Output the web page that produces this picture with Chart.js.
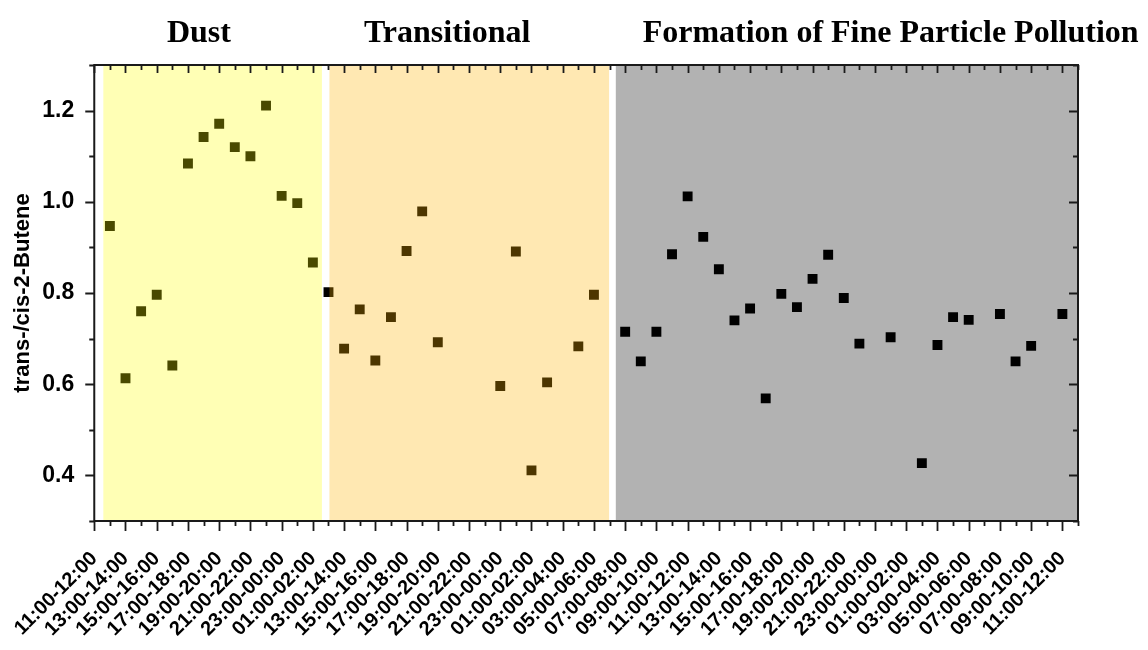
<!DOCTYPE html>
<html>
<head>
<meta charset="utf-8">
<script src="https://cdn.jsdelivr.net/npm/chart.js@4/dist/chart.umd.min.js"></script>
<style>
  html, body { margin: 0; padding: 0; background: #fff; }
  #wrap { width: 1148px; height: 650px; position: relative; }
</style>
</head>
<body>
<div id="wrap"><canvas id="ratioChart"></canvas></div>
<script>
// tick labels on the bottom axis, one per two hourly slots (slot 0, 2, 4 ... 62)
const timeLabels = [
  '11:00-12:00', '13:00-14:00', '15:00-16:00', '17:00-18:00', '19:00-20:00', '21:00-22:00', '23:00-00:00', '01:00-02:00',
  '13:00-14:00', '15:00-16:00', '17:00-18:00', '19:00-20:00', '21:00-22:00', '23:00-00:00', '01:00-02:00', '03:00-04:00', '05:00-06:00',
  '07:00-08:00', '09:00-10:00', '11:00-12:00', '13:00-14:00', '15:00-16:00', '17:00-18:00', '19:00-20:00', '21:00-22:00',
  '23:00-00:00', '01:00-02:00', '03:00-04:00', '05:00-06:00', '07:00-08:00', '09:00-10:00', '11:00-12:00'
];
const yTickLabels = ['0.4', '0.6', '0.8', '1.0', '1.2'];

// trans-/cis-2-butene ratio per hourly slot, split by period
const dustRatio = [null, 0.947, 0.613, 0.760, 0.796, 0.641, 1.084, 1.142, 1.171, 1.120, 1.100, 1.211, 1.013, 0.997, 0.867];          // slots 0-14
const transRatio = [0.802, 0.678, 0.764, 0.652, 0.747, 0.892, 0.979, 0.692, null, null, null, 0.596, 0.891, 0.411, 0.604, null, 0.683, 0.796]; // slots 15-32
const fineRatio = [null, 0.715, 0.650, 0.715, 0.885, 1.012, 0.923, 0.852, 0.740, 0.766, 0.569, 0.798, 0.769, 0.831, 0.884, 0.789, 0.689,
  null, 0.703, null, 0.427, 0.686, 0.747, 0.741, null, 0.754, 0.650, 0.684, null, 0.754];                                              // slots 33-62

const periodNames = ['Dust', 'Transitional', 'Formation of Fine Particle Pollution'];
const periodFrom = [0.58, 15.06, 33.4];
const periodTo = [14.58, 32.97, 63];

// styling
const bandColors = ['rgba(255,255,0,0.29)', 'rgba(255,178,0,0.30)', 'rgba(0,0,0,0.30)'];
const titleAt = [6.7, 22.6, 51.0];

const toPoints = (arr, start) => arr.map((v, i) => ({ x: start + i, y: v }));

const series = [
  toPoints(dustRatio, 0),
  toPoints(transRatio, dustRatio.length),
  toPoints(fineRatio, dustRatio.length + transRatio.length)
];

const framePlugin = {
  id: 'frame',
  afterDatasetsDraw(chart) {
    const { ctx, chartArea: a, scales: { x } } = chart;
    ctx.save();
    periodFrom.forEach((from, i) => {
      const x0 = x.getPixelForValue(from);
      const x1 = x.getPixelForValue(periodTo[i]);
      ctx.fillStyle = bandColors[i];
      ctx.fillRect(x0, a.top, x1 - x0, a.bottom - a.top);
    });
    ctx.restore();
  },
  afterDraw(chart) {
    const { ctx, chartArea: a, scales: { x, y } } = chart;
    ctx.save();
    ctx.strokeStyle = '#1a1a1a';
    ctx.lineWidth = 2;
    ctx.strokeRect(a.left, a.top, a.right - a.left, a.bottom - a.top);

    ctx.lineWidth = 1.8;
    ctx.beginPath();
    for (let i = 0; i <= 63; i++) {
      const px = Math.round(x.getPixelForValue(i)) + 0.5;
      const big = i % 2 === 0;
      ctx.moveTo(px, a.bottom); ctx.lineTo(px, a.bottom + (big ? 10 : 5));
      ctx.moveTo(px, a.top); ctx.lineTo(px, a.top + (big ? 8 : 5));
    }
    for (let k = 3; k <= 13; k++) {
      const py = Math.round(y.getPixelForValue(k / 10)) + 0.5;
      const big = k % 2 === 0;
      ctx.moveTo(a.left, py); ctx.lineTo(a.left - (big ? 9 : 5), py);
      ctx.moveTo(a.right, py); ctx.lineTo(a.right - (big ? 9 : 5), py);
    }
    ctx.stroke();

    ctx.fillStyle = '#000';
    ctx.font = 'bold 32px "Liberation Serif", "Times New Roman", serif';
    ctx.textAlign = 'center';
    ctx.textBaseline = 'alphabetic';
    periodNames.forEach((name, i) => {
      ctx.fillText(name, x.getPixelForValue(titleAt[i]), 42);
    });
    ctx.restore();
  }
};

new Chart(document.getElementById('ratioChart'), {
  type: 'scatter',
  data: {
    datasets: series.map((pts, i) => ({
      label: periodNames[i],
      data: pts,
      pointStyle: 'rect',
      pointRadius: 7,
      pointHoverRadius: 7,
      borderWidth: 0,
      backgroundColor: '#000',
      borderColor: '#000'
    }))
  },
  options: {
    responsive: true,
    maintainAspectRatio: false,
    animation: false,
    events: [],
    layout: { padding: { top: 65, right: 70, left: 0, bottom: 0 } },
    plugins: { legend: { display: false }, tooltip: { enabled: false } },
    scales: {
      x: {
        type: 'linear',
        min: 0,
        max: 63,
        grid: { display: false },
        border: { display: false },
        afterFit: s => { s.height = 129; },
        afterBuildTicks: s => { s.ticks = Array.from({ length: 64 }, (_, i) => ({ value: i })); },
        ticks: {
          autoSkip: false,
          minRotation: 45,
          maxRotation: 45,
          padding: 18,
          color: '#000',
          font: { family: '"Liberation Sans", Arial, sans-serif', weight: 'bold', size: 20 },
          callback: v => (v % 2 === 0 && v / 2 < timeLabels.length) ? timeLabels[v / 2] : ''
        }
      },
      y: {
        min: 0.3,
        max: 1.3,
        grid: { display: false },
        border: { display: false },
        afterFit: s => { s.width = 93; },
        ticks: {
          stepSize: 0.1,
          padding: 12,
          color: '#000',
          font: { family: '"Liberation Sans", Arial, sans-serif', weight: 'bold', size: 23 },
          callback: v => {
            const k = Math.round(v * 10);
            return (k % 2 === 0 && k >= 4 && k <= 12) ? yTickLabels[(k - 4) / 2] : '';
          }
        },
        title: {
          display: true,
          text: 'trans-/cis-2-Butene',
          color: '#000',
          padding: { top: 8, bottom: 0 },
          font: { family: '"Liberation Sans", Arial, sans-serif', weight: 'bold', size: 22 }
        }
      }
    }
  },
  plugins: [framePlugin]
});
</script>
</body>
</html>
